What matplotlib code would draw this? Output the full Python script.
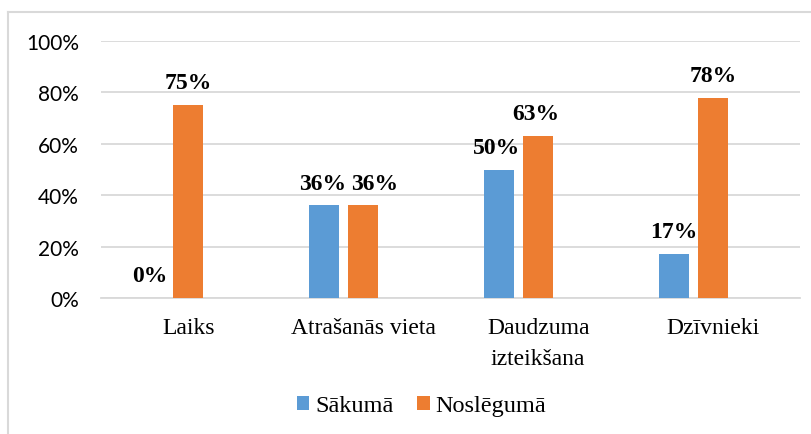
import numpy as np
from matplotlib import pyplot as plt
from matplotlib.lines import Line2D

# data
categories = ["Laiks", "Atrašanās vieta", "Daudzuma\nizteikšana", "Dzīvnieki"]
sakuma = [0.00, 0.36, 0.50, 0.17]
nosleguma = [0.75, 0.36, 0.63, 0.78]
series_names = ["Sākumā", "Noslēgumā"]
y_ticks = [0.0, 0.2, 0.4, 0.6, 0.8, 1.0]

BLUE = "#5B9BD5"
ORANGE = "#ED7D31"
GRID = "#D9D9D9"
SERIF = ["Liberation Serif", "DejaVu Serif"]
SANS = ["Lato", "DejaVu Sans"]

fig = plt.figure(figsize=(8.12, 4.35), dpi=100)
ax = fig.add_axes([101 / 812, 1 - 299 / 435, 699.5 / 812, 257 / 435])

x = np.arange(len(categories))
width = 0.171
offset = 0.223

bars_s = ax.bar(x - offset, sakuma, width, color=BLUE, label=series_names[0], zorder=3)
bars_n = ax.bar(x, nosleguma, width, color=ORANGE, label=series_names[1], zorder=3)

# value labels above the bars (small nudges where they would collide)
nudge_s = [0, -1, -2, 0]
nudge_n = [0, 8, -2, 0]
for bars, vals, nudges in [(bars_s, sakuma, nudge_s), (bars_n, nosleguma, nudge_n)]:
    for b, v, dx in zip(bars, vals, nudges):
        ax.annotate("{:.0f}%".format(v * 100),
                    (b.get_x() + b.get_width() / 2, v),
                    xytext=(dx, 12.2), textcoords="offset points",
                    ha="center", va="baseline",
                    fontsize=17, fontweight="bold", family=SERIF, zorder=4)

ax.set_xlim(-0.5, len(categories) - 0.5)
ax.set_ylim(0, 1.0)
ax.set_yticks(y_ticks)
ax.set_yticklabels(["{:.0f}%".format(t * 100) for t in y_ticks], family=SANS, fontsize=15)
ax.set_xticks(x)
ax.set_xticklabels(categories, family=SERIF, fontsize=17, linespacing=1.6)
ax.tick_params(axis="both", length=0)
ax.tick_params(axis="y", pad=16)
ax.tick_params(axis="x", pad=14)

ax.grid(axis="y", color=GRID, linewidth=1.3, zorder=0)
for s in ["top", "right", "left"]:
    ax.spines[s].set_visible(False)
ax.spines["bottom"].set_color(GRID)
ax.spines["bottom"].set_linewidth(1.3)

leg = fig.legend(loc="center", bbox_to_anchor=(421.5 / 812, 1 - 407 / 435),
                 ncol=2, frameon=False, prop={"family": SERIF, "size": 17.5},
                 handlelength=0.5, handleheight=0.5, handletextpad=0.25,
                 columnspacing=1.0)

# outer chart border (cropped at right and bottom)
fig.add_artist(Line2D([8 / 812, 8 / 812], [0, 1 - 13 / 435], color=GRID,
                      linewidth=1.5, transform=fig.transFigure))
fig.add_artist(Line2D([8 / 812, 1], [1 - 13 / 435, 1 - 13 / 435], color=GRID,
                      linewidth=1.5, transform=fig.transFigure))

fig.savefig("out.png", dpi=100)
